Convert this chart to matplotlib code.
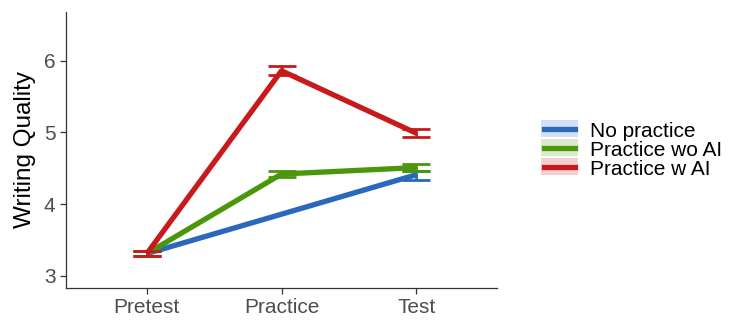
import matplotlib
matplotlib.use("Agg")
import matplotlib.pyplot as plt
import numpy as np
from matplotlib.legend_handler import HandlerBase
from matplotlib.lines import Line2D
from matplotlib.patches import Rectangle

plt.rcParams['font.family'] = ['Liberation Sans', 'DejaVu Sans']

# Werte aus der Abbildung geschätzt
phases = ["Pretest", "Practice", "Test"]
groups = ["No practice", "Practice wo AI", "Practice w AI"]
colors = ["#2a68bd", "#4c960a", "#c8191b"]

no_practice_x = [0, 2]
no_practice_mean = [3.31, 4.41]
no_practice_lo = [3.28, 4.34]
no_practice_hi = [3.34, 4.46]

wo_ai_x = [0, 1, 2]
wo_ai_mean = [3.31, 4.42, 4.51]
wo_ai_lo = [3.28, 4.38, 4.46]
wo_ai_hi = [3.34, 4.46, 4.56]

w_ai_x = [0, 1, 2]
w_ai_mean = [3.31, 5.86, 4.99]
w_ai_lo = [3.28, 5.80, 4.93]
w_ai_hi = [3.35, 5.93, 5.05]

series = [
    (no_practice_x, no_practice_mean, no_practice_lo, no_practice_hi),
    (wo_ai_x, wo_ai_mean, wo_ai_lo, wo_ai_hi),
    (w_ai_x, w_ai_mean, w_ai_lo, w_ai_hi),
]

fig = plt.figure(figsize=(7.47, 3.32), dpi=100)
ax = fig.add_axes([66 / 747, 1 - 288 / 332, 431 / 747, 276 / 332])

handles = []
for (x, m, lo, hi), col, name in zip(series, colors, groups):
    x = np.array(x, dtype=float)
    m = np.array(m)
    # heller Band um die Linie
    ax.fill_between(x, m - 0.03, m + 0.03, color=col, alpha=0.2, lw=0, zorder=1)
    ln, = ax.plot(x, m, color=col, lw=3.8, solid_capstyle='butt', zorder=3)
    ax.errorbar(x, m, yerr=[m - np.array(lo), np.array(hi) - m], fmt='none',
                ecolor=col, elinewidth=2.0, capsize=10, capthick=2.0, zorder=4)
    handles.append(ln)

ax.set_xlim(-0.6, 2.6)
ax.set_ylim(2.83, 6.68)
ax.set_xticks(range(len(phases)))
ax.set_xticklabels(phases)
ax.set_yticks([3, 4, 5, 6])
ax.set_ylabel("Writing Quality", fontsize=17.5, color="black", labelpad=6)

for s in ["top", "right"]:
    ax.spines[s].set_visible(False)
for s in ["left", "bottom"]:
    ax.spines[s].set_color("#333333")
    ax.spines[s].set_linewidth(0.9)
ax.tick_params(axis="both", colors="#333333", labelsize=15, length=4, width=0.9,
               labelcolor="#4d4d4d")


class KeyHandler(HandlerBase):
    def create_artists(self, legend, orig, xd, yd, w, h, fontsize, trans):
        col = orig.get_color()
        r = Rectangle((xd, yd - 0.3), w, h + 0.6, facecolor=col, alpha=0.2,
                      edgecolor="none", transform=trans)
        l = Line2D([xd + 2, xd + w - 2], [yd + h / 2, yd + h / 2], color=col,
                   lw=3.8, transform=trans)
        return [r, l]


fig.legend(handles, groups, loc="center left", bbox_to_anchor=(522 / 747, 1 - 150 / 332),
           frameon=False, fontsize=15, handler_map={Line2D: KeyHandler()},
           handlelength=1.8, handleheight=0.75, labelspacing=0.0, handletextpad=0.55)

fig.savefig("out.png", dpi=100)
